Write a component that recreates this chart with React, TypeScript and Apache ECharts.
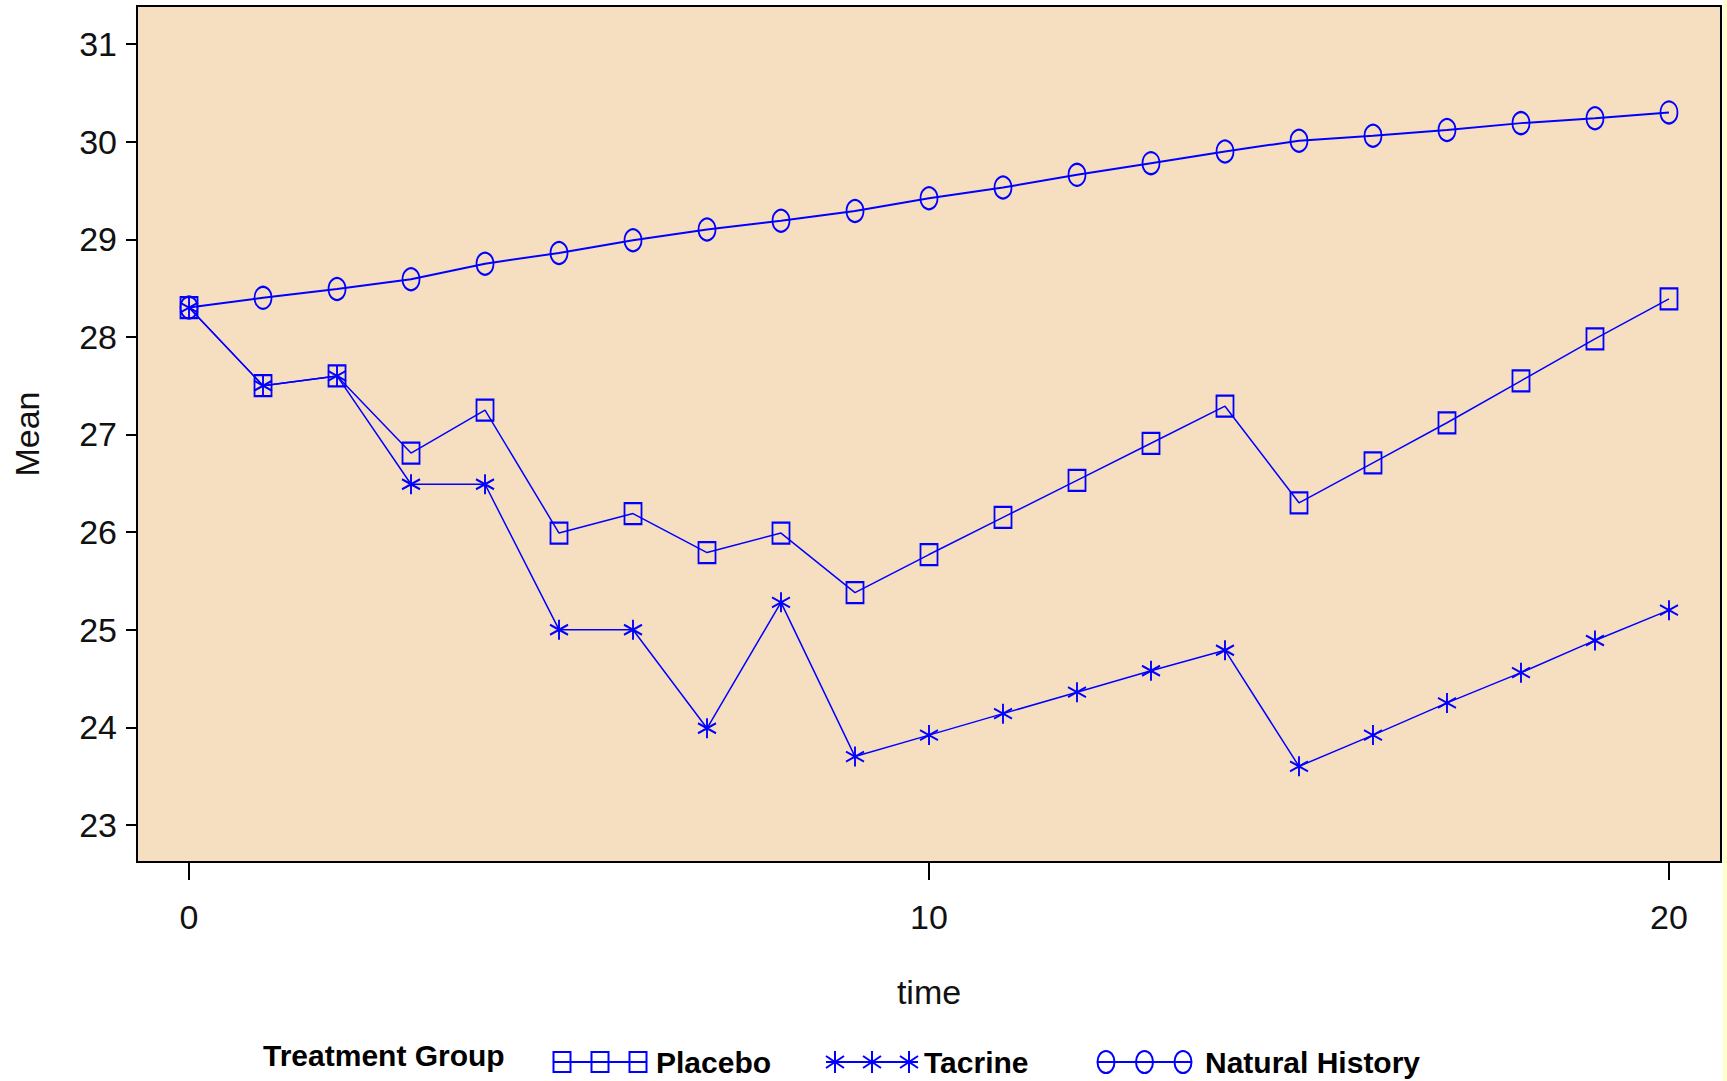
import React, { useEffect, useRef } from "react";
import * as echarts from "echarts";

const TIME = [0, 1, 2, 3, 4, 5, 6, 7, 8, 9, 10, 11, 12, 13, 14, 15, 16, 17, 18, 19, 20];
const PLACEBO = [28.3, 27.5, 27.6, 26.81, 27.25, 25.99, 26.19, 25.79, 25.99, 25.38, 25.77, 26.15, 26.53, 26.91, 27.29, 26.3, 26.71, 27.12, 27.55, 27.98, 28.39];
const TACRINE = [28.3, 27.5, 27.6, 26.49, 26.49, 25.0, 25.0, 23.99, 25.28, 23.7, 23.92, 24.14, 24.36, 24.58, 24.79, 23.6, 23.92, 24.25, 24.56, 24.89, 25.2];
const NATURAL = [28.3, 28.4, 28.49, 28.59, 28.75, 28.86, 28.99, 29.1, 29.19, 29.29, 29.42, 29.53, 29.66, 29.78, 29.9, 30.01, 30.06, 30.12, 30.19, 30.24, 30.3];
const Y_TICKS = [23, 24, 25, 26, 27, 28, 29, 30, 31];
const X_TICKS = [0, 10, 20];
const SERIES_NAMES = ["Placebo", "Tacrine", "Natural History"];
const LEGEND_TITLE = "Treatment Group";

const BLUE = "#0000ff";
const LABEL_FONT = "'Liberation Sans', Arial, sans-serif";
const BOLD_FONT = "'Liberation Sans', Arial, sans-serif";
const STAR_PATH = "path://M9,0L9,20M0,5L18,15M0,15L18,5";

function pairs(vals: number[]) {
  return TIME.map((t, i) => [t, vals[i]]);
}

function legendEntry(name: string, kind: string, x0: number, x1: number, textX: number, cy: number) {
  const children: any[] = [];
  children.push({
    type: "line",
    shape: { x1: x0, y1: cy, x2: x1, y2: cy },
    style: { stroke: BLUE, lineWidth: 2 },
  });
  const centers = [x0 + 9, (x0 + x1) / 2, x1 - 9];
  centers.forEach((cx) => {
    if (kind === "rect") {
      children.push({
        type: "rect",
        shape: { x: cx - 8.5, y: cy - 10, width: 17, height: 20 },
        style: { fill: "none", stroke: BLUE, lineWidth: 2 },
      });
    } else if (kind === "ellipse") {
      children.push({
        type: "ellipse",
        shape: { cx, cy, rx: 8.5, ry: 11 },
        style: { fill: "none", stroke: BLUE, lineWidth: 2 },
      });
    } else {
      const segs = [
        [cx, cy - 11, cx, cy + 11],
        [cx - 9, cy - 6, cx + 9, cy + 6],
        [cx - 9, cy + 6, cx + 9, cy - 6],
      ];
      segs.forEach((s) =>
        children.push({
          type: "line",
          shape: { x1: s[0], y1: s[1], x2: s[2], y2: s[3] },
          style: { stroke: BLUE, lineWidth: 2 },
        })
      );
    }
  });
  children.push({
    type: "text",
    x: textX,
    y: cy,
    style: {
      text: name,
      font: `bold 30px ${BOLD_FONT}`,
      fill: "#000",
      align: "left",
      verticalAlign: "middle",
      textAlign: "left",
      textVerticalAlign: "middle",
    },
  });
  return { type: "group", children };
}

export default function App() {
  const ref = useRef<HTMLDivElement>(null);

  useEffect(() => {
    if (!ref.current) return;
    const chart = echarts.init(ref.current, null, { renderer: "svg" });
    const labelStyle = {
      fontFamily: LABEL_FONT,
      fontSize: 34,
      color: "#111",
    };
    const option: any = {
      animation: false,
      backgroundColor: "#ffffff",
      grid: {
        left: 137,
        top: 6,
        right: 6,
        bottom: 219,
        show: true,
        backgroundColor: "#F6DFC1",
        borderColor: "#000",
        borderWidth: 2,
      },
      xAxis: {
        type: "value",
        min: -0.703,
        max: 20.703,
        name: "time",
        nameLocation: "middle",
        nameGap: 113,
        nameTextStyle: labelStyle,
        axisLine: { show: true, onZero: false, lineStyle: { color: "#000", width: 2 } },
        axisTick: { show: true, length: 18, lineStyle: { color: "#000", width: 2 }, customValues: X_TICKS },
        axisLabel: { ...labelStyle, margin: 38, customValues: X_TICKS },
        splitLine: { show: false },
      },
      yAxis: {
        type: "value",
        min: 22.62,
        max: 31.39,
        name: "Mean",
        nameLocation: "middle",
        nameGap: 93,
        nameRotate: 90,
        nameTextStyle: labelStyle,
        axisLine: { show: true, onZero: false, lineStyle: { color: "#000", width: 2 } },
        axisTick: { show: true, length: 11, lineStyle: { color: "#000", width: 2 }, customValues: Y_TICKS },
        axisLabel: { ...labelStyle, margin: 20, customValues: Y_TICKS },
        splitLine: { show: false },
      },
      series: [
        {
          name: SERIES_NAMES[0],
          type: "line",
          data: pairs(PLACEBO),
          symbol: "rect",
          symbolSize: [17, 21],
          itemStyle: { color: "rgba(0,0,0,0)", borderColor: BLUE, borderWidth: 2 },
          lineStyle: { color: BLUE, width: 1.5 },
          z: 3,
        },
        {
          name: SERIES_NAMES[1],
          type: "line",
          data: pairs(TACRINE),
          symbol: STAR_PATH,
          symbolSize: [18, 20],
          itemStyle: { color: "rgba(0,0,0,0)", borderColor: BLUE, borderWidth: 2 },
          lineStyle: { color: BLUE, width: 1.5 },
          z: 2,
        },
        {
          name: SERIES_NAMES[2],
          type: "line",
          data: pairs(NATURAL),
          symbol: "circle",
          symbolSize: [17, 22],
          itemStyle: { color: "rgba(0,0,0,0)", borderColor: BLUE, borderWidth: 2 },
          lineStyle: { color: BLUE, width: 2 },
          z: 4,
        },
      ],
      graphic: [
        {
          type: "rect",
          shape: { x: 1723, y: 0, width: 4, height: 1081 },
          style: { fill: "#FFFFCC" },
          silent: true,
        },
        {
          type: "text",
          x: 263,
          y: 1055,
          style: {
            text: LEGEND_TITLE,
            font: `bold 30px ${BOLD_FONT}`,
            fill: "#000",
            align: "left",
            verticalAlign: "middle",
            textAlign: "left",
            textVerticalAlign: "middle",
          },
        },
        legendEntry(SERIES_NAMES[0], "rect", 553, 647, 656, 1062),
        legendEntry(SERIES_NAMES[1], "star", 826, 918, 924, 1062),
        legendEntry(SERIES_NAMES[2], "ellipse", 1097, 1192, 1205, 1062),
      ],
    };
    chart.setOption(option);
    return () => chart.dispose();
  }, []);

  return (
    <div
      ref={ref}
      style={{ position: "fixed", left: 0, top: 0, width: 1727, height: 1081, background: "#fff" }}
    />
  );
}
